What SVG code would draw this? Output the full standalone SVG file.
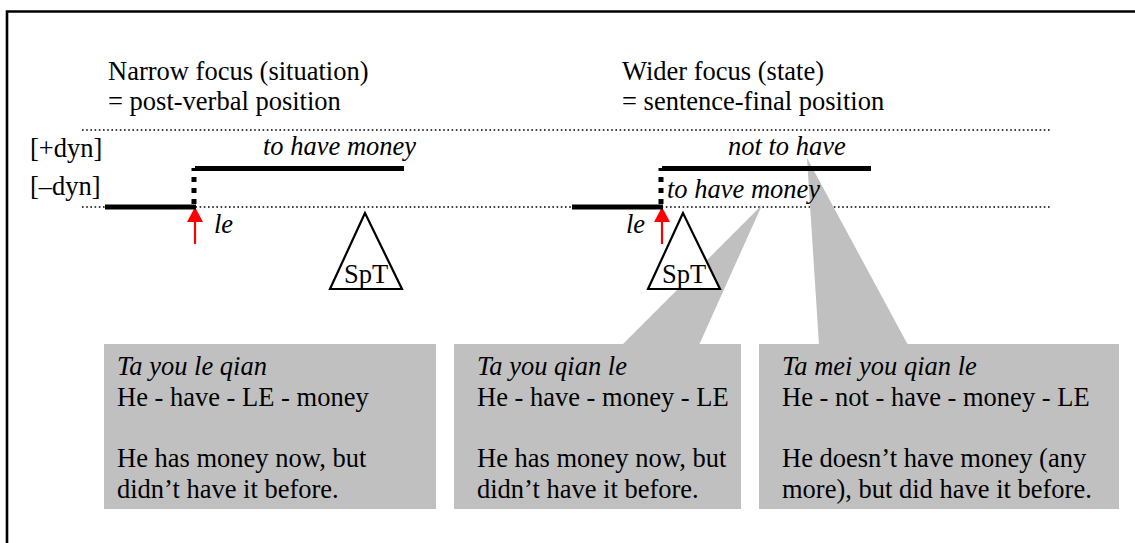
<svg xmlns="http://www.w3.org/2000/svg" width="1135" height="543" viewBox="0 0 1135 543">
  <defs>
    <style>
      text { font-family: "Liberation Serif", "Times New Roman", serif; font-size: 26.5px; fill: #000; }
      .it { font-style: italic; }
      .dots { stroke: #000; stroke-width: 1.6; stroke-dasharray: 1.6 2.6; fill: none; }
      .bar { stroke: #000; stroke-width: 5; fill: none; }
      .vdots { stroke: #000; stroke-width: 5; stroke-dasharray: 5 6; fill: none; }
      .box { fill: #c0c0c0; }
      .tri { fill: #fff; stroke: #000; stroke-width: 2.2; stroke-linejoin: miter; }
      .arrow { stroke: #ff0000; stroke-width: 2.2; fill: none; }
      .arrowhead { fill: #ff0000; }
    </style>
  </defs>

  <rect width="1135" height="543" fill="#fff"/>

  <!-- frame (open on the right and bottom) -->
  <path d="M7,543 V11.5 H1135" fill="none" stroke="#000" stroke-width="2.6"/>

  <!-- headings -->
  <g id="heading-narrow">
    <text x="108" y="80">Narrow focus (situation)</text>
    <text x="108" y="110">= post-verbal position</text>
  </g>
  <g id="heading-wider">
    <text x="622" y="80">Wider focus (state)</text>
    <text x="622" y="110">= sentence-final position</text>
  </g>

  <!-- level labels -->
  <g id="levels">
    <text x="30" y="157">[+dyn]</text>
    <text x="30" y="195">[–dyn]</text>
  </g>

  <!-- level guides -->
  <g id="guides">
    <line class="dots" x1="82" y1="130" x2="1050" y2="130"/>
    <line class="dots" x1="82" y1="207" x2="1050" y2="207"/>
  </g>

  <!-- callout wedges -->
  <g id="connectors">
    <polygon class="box" points="762,205 622,345 699,345"/>
    <polygon class="box" points="807,158 819,345 908,345"/>
    <!-- red markers -->
    <line class="arrow" x1="195" y1="244" x2="195" y2="220"/>
    <polygon class="arrowhead" points="195,207 187,222 203,222"/>
    <line class="arrow" x1="662" y1="244" x2="662" y2="220"/>
    <polygon class="arrowhead" points="662,207 654,222 670,222"/>
  </g>

  <!-- left timeline -->
  <g id="timeline-narrow">
    <line class="bar" x1="105" y1="207" x2="196" y2="207"/>
    <line class="vdots" x1="194" y1="204" x2="194" y2="168"/>
    <line class="bar" x1="195" y1="168.5" x2="404" y2="168.5"/>
    <text class="it" x="263" y="155">to have money</text>
    <text class="it" x="214" y="233">le</text>
  </g>

  <!-- right timeline -->
  <g id="timeline-wider">
    <line class="bar" x1="572" y1="207" x2="663" y2="207"/>
    <line class="vdots" x1="661" y1="204" x2="661" y2="168"/>
    <line class="bar" x1="662" y1="168.5" x2="871" y2="168.5"/>
    <text class="it" x="728" y="155">not to have</text>
    <text class="it" x="667" y="198">to have money</text>
    <text class="it" x="626" y="233">le</text>
  </g>

  <!-- speech time markers -->
  <g id="spt-narrow">
    <polygon class="tri" points="365,213 330,289 402,289"/>
    <text x="366" y="283" text-anchor="middle">SpT</text>
  </g>
  <g id="spt-wider">
    <polygon class="tri" points="683,213 648,289 720,289"/>
    <text x="684" y="283" text-anchor="middle">SpT</text>
  </g>

  <!-- example boxes -->
  <g id="box-le-qian">
    <rect class="box" x="104" y="344" width="332" height="165"/>
    <text class="it" x="117" y="375">Ta you le qian</text>
    <text x="117" y="406">He - have - LE - money</text>
    <text x="117" y="467">He has money now, but</text>
    <text x="117" y="498">didn’t have it before.</text>
  </g>
  <g id="box-qian-le">
    <rect class="box" x="454" y="344" width="287" height="165"/>
    <text class="it" x="477" y="375">Ta you qian le</text>
    <text x="477" y="406">He - have - money - LE</text>
    <text x="477" y="467">He has money now, but</text>
    <text x="477" y="498">didn’t have it before.</text>
  </g>
  <g id="box-mei-you">
    <rect class="box" x="759" y="344" width="360" height="165"/>
    <text class="it" x="782" y="375">Ta mei you qian le</text>
    <text x="782" y="406">He - not - have - money - LE</text>
    <text x="782" y="467">He doesn’t have money (any</text>
    <text x="782" y="498">more), but did have it before.</text>
  </g>
</svg>
